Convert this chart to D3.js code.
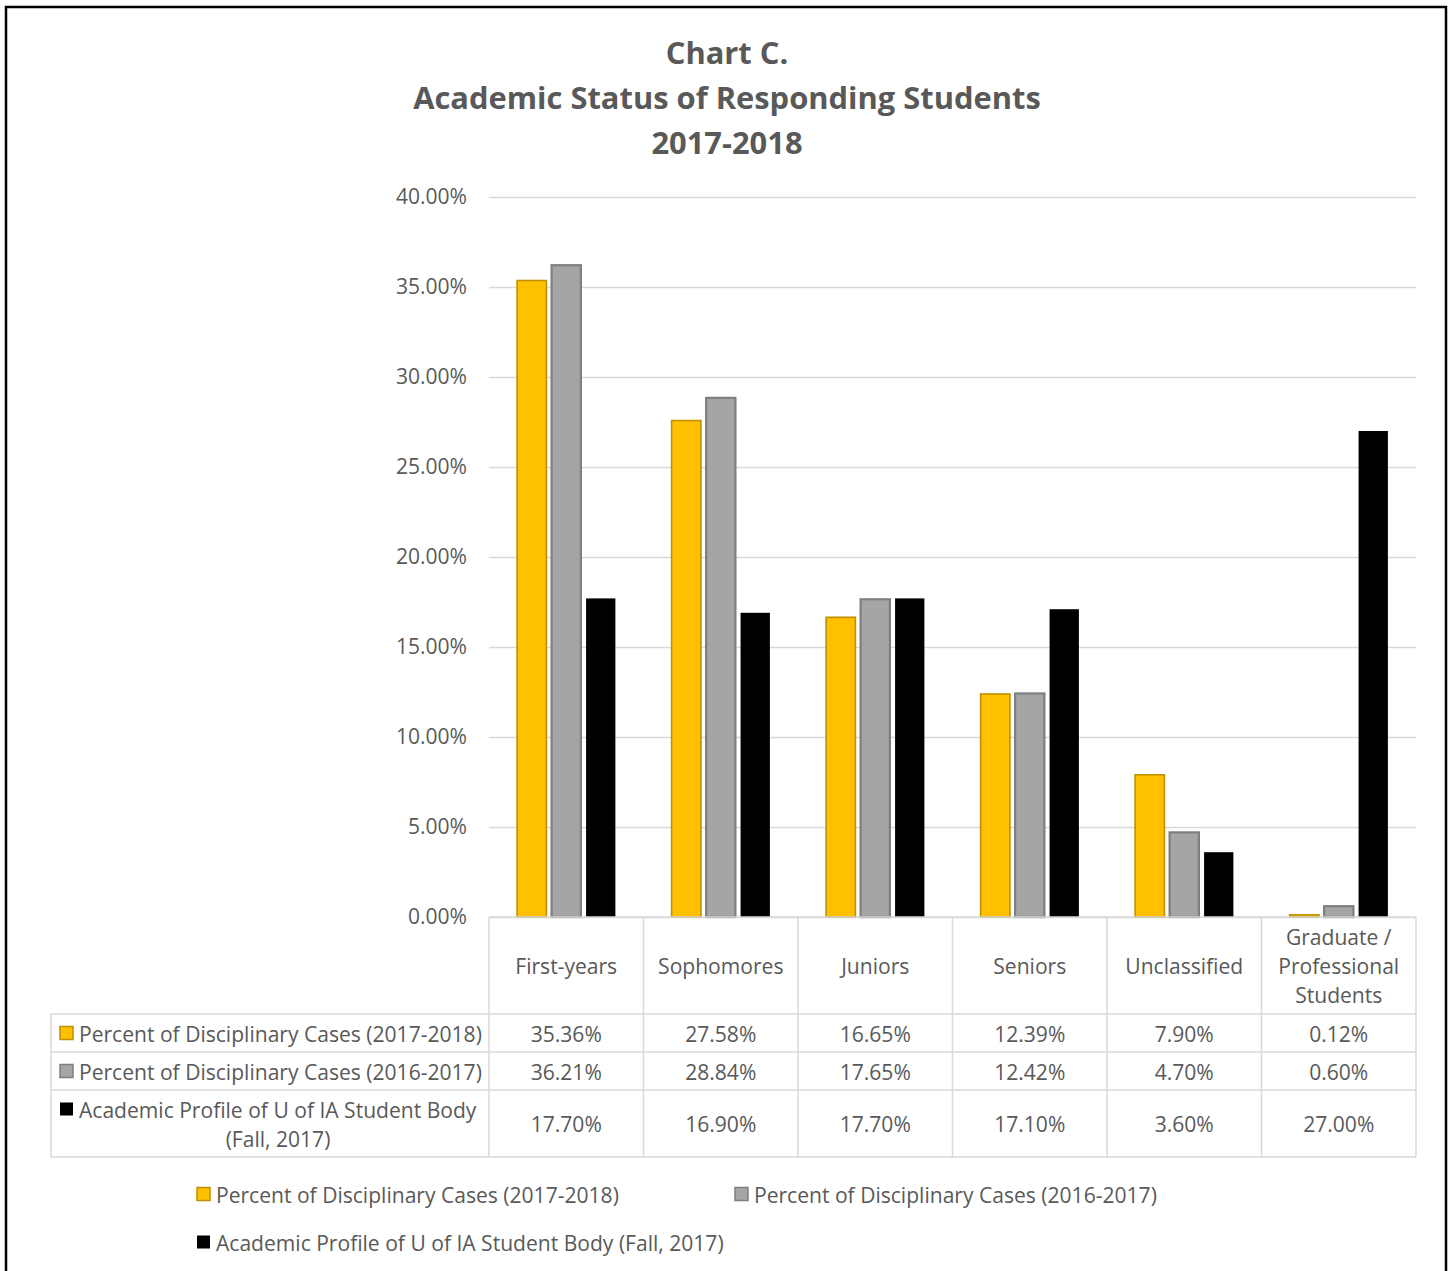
<!DOCTYPE html>
<html>
<head>
<meta charset="utf-8">
<script src="https://cdn.jsdelivr.net/npm/d3@7"></script>
<style>
  body { margin: 0; background: #fff; }
  svg { display: block; }
</style>
</head>
<body>
<svg id="chart" width="1452" height="1271"></svg>
<script>
// ---- data ----
const categories = ["First-years", "Sophomores", "Juniors", "Seniors", "Unclassified", "Graduate /\nProfessional\nStudents"];
const seriesNames = [
  "Percent of Disciplinary Cases (2017-2018)",
  "Percent of Disciplinary Cases (2016-2017)",
  "Academic Profile of U of IA Student Body (Fall, 2017)"
];
const cases20172018 = [35.36, 27.58, 16.65, 12.39, 7.90, 0.12];
const cases20162017 = [36.21, 28.84, 17.65, 12.42, 4.70, 0.60];
const profileFall2017 = [17.70, 16.90, 17.70, 17.10, 3.60, 27.00];
const yTicks = [0, 5, 10, 15, 20, 25, 30, 35, 40];
const titleLines = ["Chart C.", "Academic Status of Responding Students", "2017-2018"];

const seriesValues = [cases20172018, cases20162017, profileFall2017];
const seriesFill = ["#FFC000", "#A5A5A5", "#000000"];
const seriesStroke = ["#BF9000", "#7F7F7F", "none"];

// ---- setup ----
const FONT = "'Open Sans', 'DejaVu Sans', sans-serif";
const TEXT = "#595959";
const GRID = "#D9D9D9";
const svg = d3.select("#chart");

function fitSize(str, weight, target) {
  const t = svg.append("text").attr("font-family", FONT).attr("font-weight", weight)
    .attr("font-size", 100).text(str);
  const w = t.node().getComputedTextLength();
  t.remove();
  return 100 * target / w;
}
const bodySize = fitSize("Percent of Disciplinary Cases (2017-2018)", 400, 403);
const titleSize = fitSize("Academic Status of Responding Students", 700, 628);

// outer frame
svg.append("rect").attr("x", 6).attr("y", 7).attr("width", 1440).attr("height", 1300)
  .attr("fill", "none").attr("stroke", "#000").attr("stroke-width", 2.5);

// title
svg.append("g").selectAll("text").data(titleLines).join("text")
  .attr("x", 727).attr("y", (d, i) => 64 + i * 45)
  .attr("text-anchor", "middle")
  .attr("font-family", FONT).attr("font-weight", 700).attr("font-size", titleSize)
  .attr("fill", TEXT).text(d => d);

// scales
const plot = { left: 489, right: 1416, top: 197, bottom: 917 };
const x0 = d3.scaleBand().domain(categories).range([plot.left, plot.right]).padding(0);
const bw = x0.bandwidth();
const x1 = d3.scaleBand().domain(d3.range(3)).range([bw * 0.182, bw * 0.818]).paddingInner(0.15);
const y = d3.scaleLinear().domain([0, 40]).range([plot.bottom, plot.top]);

// gridlines + y labels
const yAxis = d3.axisLeft(y).tickValues(yTicks)
  .tickFormat(d => d3.format(".2f")(d) + "%")
  .tickSize(-(plot.right - plot.left)).tickPadding(22);
const gy = svg.append("g").attr("transform", `translate(${plot.left},0)`).call(yAxis);
gy.select(".domain").remove();
gy.selectAll(".tick line").attr("stroke", GRID).attr("stroke-width", 1.3);
gy.selectAll(".tick text").attr("font-family", FONT).attr("font-size", bodySize)
  .attr("fill", TEXT);

// bars
const groups = svg.append("g").selectAll("g").data(categories).join("g")
  .attr("transform", d => `translate(${x0(d)},0)`);
groups.selectAll("rect").data((d, ci) => seriesValues.map((vals, si) => ({ si, v: vals[ci] })))
  .join("rect")
  .attr("x", d => x1(d.si))
  .attr("width", x1.bandwidth())
  .attr("y", d => y(d.v))
  .attr("height", d => y(0) - y(d.v))
  .attr("fill", d => seriesFill[d.si])
  .attr("stroke", d => seriesStroke[d.si])
  .attr("stroke-width", d => d.si === 0 ? 1.6 : 2.2);

// ---- data table ----
const table = svg.append("g");
const rowTop = [1014, 1052, 1090];
const rowBottom = [1052, 1090, 1157];
const tableLeft = 51;
const line = (x1_, y1_, x2_, y2_) => table.append("line")
  .attr("x1", x1_).attr("y1", y1_).attr("x2", x2_).attr("y2", y2_)
  .attr("stroke", GRID).attr("stroke-width", 1.5);

// horizontal rules
line(plot.left, plot.bottom, plot.right, plot.bottom);
rowTop.forEach(t => line(tableLeft, t, plot.right, t));
line(tableLeft, 1157, plot.right, 1157);
// vertical rules
categories.forEach(c => line(x0(c), plot.bottom, x0(c), 1157));
line(plot.right, plot.bottom, plot.right, 1157);
line(tableLeft, rowTop[0], tableLeft, 1157);

// category header labels
categories.forEach(c => {
  const parts = c.split("\n");
  const cx = x0(c) + bw / 2;
  const cy = 965;
  parts.forEach((p, i) => {
    table.append("text").attr("x", cx).attr("y", cy + (i - (parts.length - 1) / 2) * 29)
      .attr("text-anchor", "middle").attr("dominant-baseline", "central")
      .attr("font-family", FONT).attr("font-size", bodySize).attr("fill", TEXT).text(p);
  });
});

// row labels with keys
const rowLabelLines = [
  [seriesNames[0]],
  [seriesNames[1]],
  ["Academic Profile of U of IA Student Body", "(Fall, 2017)"]
];
rowLabelLines.forEach((lines, si) => {
  const cyMid = (rowTop[si] + rowBottom[si]) / 2;
  const n = lines.length;
  const firstY = cyMid - (n - 1) / 2 * 29;
  table.append("rect").attr("x", 60).attr("y", firstY - 6.5).attr("width", 13).attr("height", 13)
    .attr("fill", seriesFill[si])
    .attr("stroke", si === 2 ? "none" : seriesStroke[si]).attr("stroke-width", 1.5);
  lines.forEach((l, i) => {
    const t = table.append("text").attr("y", firstY + i * 29)
      .attr("dominant-baseline", "central")
      .attr("font-family", FONT).attr("font-size", bodySize).attr("fill", TEXT).text(l);
    if (i === 0) t.attr("x", 79);
    else t.attr("x", 278).attr("text-anchor", "middle");
  });
  // values
  categories.forEach((c, ci) => {
    table.append("text").attr("x", x0(c) + bw / 2).attr("y", cyMid)
      .attr("text-anchor", "middle").attr("dominant-baseline", "central")
      .attr("font-family", FONT).attr("font-size", bodySize).attr("fill", TEXT)
      .text(d3.format(".2f")(seriesValues[si][ci]) + "%");
  });
});

// ---- legend ----
const legendPos = [{ x: 197, y: 1194 }, { x: 735, y: 1194 }, { x: 197, y: 1242 }];
const legend = svg.append("g").selectAll("g").data(seriesNames).join("g")
  .attr("transform", (d, i) => `translate(${legendPos[i].x},${legendPos[i].y})`);
legend.append("rect").attr("x", 0).attr("y", -6.5).attr("width", 13).attr("height", 13)
  .attr("fill", (d, i) => seriesFill[i])
  .attr("stroke", (d, i) => seriesStroke[i]).attr("stroke-width", 1.5);
legend.append("text").attr("x", 19).attr("y", 0).attr("dominant-baseline", "central")
  .attr("font-family", FONT).attr("font-size", bodySize).attr("fill", TEXT).text(d => d);
</script>
</body>
</html>
